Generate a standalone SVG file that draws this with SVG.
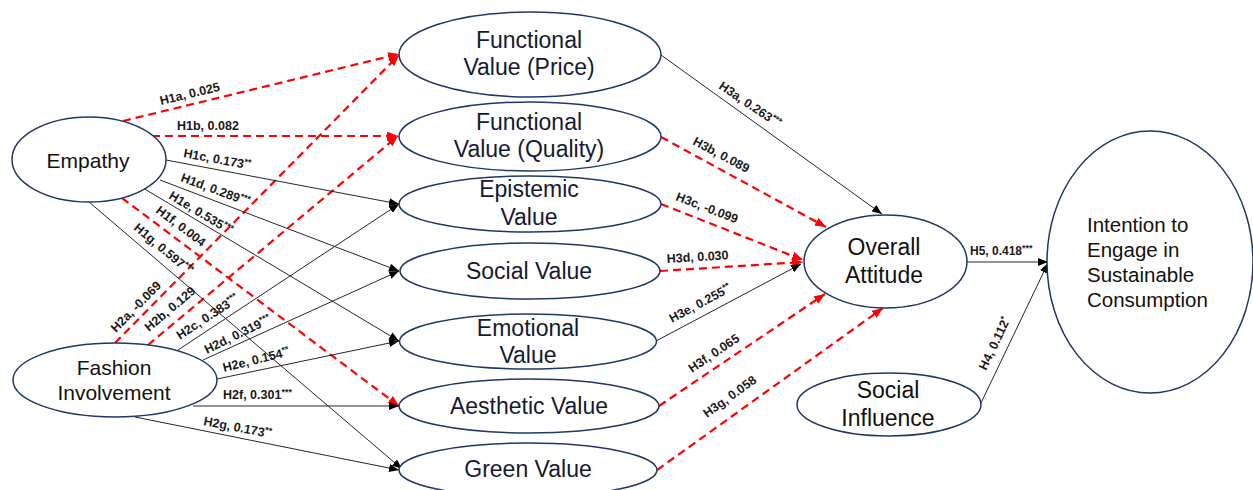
<svg xmlns="http://www.w3.org/2000/svg" width="1253" height="490" viewBox="0 0 1253 490">
  <defs>
    <style>
      .node ellipse { fill: #ffffff; stroke: #1f3864; stroke-width: 1.5; }
      .node text { font-family: "Liberation Sans", Arial, sans-serif; fill: #111111; text-anchor: middle; }
      .big text { font-size: 21px; }
      .mid text { font-size: 23px; fill: #141a33; }
      .ins { font-size: 23px; fill: #111111; }
      .sig line { stroke: #262626; stroke-width: 1; fill: none; marker-end: url(#arrK); }
      .ns line { stroke: #ff0000; stroke-width: 2.2; stroke-dasharray: 8 5; fill: none; marker-end: url(#arrR); }
      .lbl { font-family: "Liberation Sans", Arial, sans-serif; font-weight: bold; font-size: 12.5px; fill: #1a1a1a; }
      .sup { font-size: 9px; }
    </style>
    <marker id="arrK" viewBox="0 0 10 8" refX="10" refY="4" markerWidth="10" markerHeight="8" markerUnits="userSpaceOnUse" orient="auto">
      <path d="M0,0 L10,4 L0,8 z" fill="#000000"/>
    </marker>
    <marker id="arrR" viewBox="0 0 10 8" refX="10" refY="4" markerWidth="11" markerHeight="9" markerUnits="userSpaceOnUse" orient="auto">
      <path d="M0,0 L10,4 L0,8 z" fill="#ff0000"/>
    </marker>
  </defs>

  <rect width="1253" height="490" fill="#ffffff"/>

  <!-- paths between constructs -->
  <g id="connectors">
    <g class="ns">
      <line x1="123" y1="121" x2="399" y2="54"/>
      <line x1="152" y1="136" x2="398" y2="136"/>
      <line x1="122" y1="198" x2="399" y2="406"/>
      <line x1="115" y1="343" x2="399" y2="55"/>
      <line x1="148" y1="345" x2="398" y2="136"/>
      <line x1="661" y1="137" x2="826" y2="227"/>
      <line x1="661" y1="204" x2="803" y2="260"/>
      <line x1="660" y1="271" x2="803" y2="262"/>
      <line x1="659" y1="406" x2="825" y2="294"/>
      <line x1="657" y1="470" x2="883" y2="308"/>
    </g>
    <g class="sig">
      <line x1="166" y1="160" x2="399" y2="204"/>
      <line x1="160" y1="180" x2="399" y2="271"/>
      <line x1="143" y1="188" x2="399" y2="341"/>
      <line x1="89" y1="202" x2="402" y2="469"/>
      <line x1="178" y1="350" x2="399" y2="204"/>
      <line x1="203" y1="360" x2="399" y2="271"/>
      <line x1="217" y1="379" x2="399" y2="341"/>
      <line x1="193" y1="406" x2="399" y2="406"/>
      <line x1="135" y1="417" x2="399" y2="470"/>
      <line x1="661" y1="55" x2="882" y2="214"/>
      <line x1="656" y1="341" x2="801" y2="264"/>
      <line x1="967" y1="262" x2="1048" y2="262"/>
      <line x1="981" y1="403" x2="1048" y2="263"/>
    </g>

    <!-- path labels -->
    <text class="lbl" transform="translate(161,105) rotate(-13.6)">H1a, 0.025</text>
    <text class="lbl" transform="translate(177,130)">H1b, 0.082</text>
    <text class="lbl" transform="translate(183,157) rotate(10.7)">H1c, 0.173<tspan class="sup" dy="-4">**</tspan></text>
    <text class="lbl" transform="translate(180,181) rotate(20.3)">H1d, 0.289<tspan class="sup" dy="-4">***</tspan></text>
    <text class="lbl" transform="translate(168,198) rotate(31)">H1e, 0.535<tspan class="sup" dy="-4">***</tspan></text>
    <text class="lbl" transform="translate(155,212) rotate(37)">H1f, 0.004</text>
    <text class="lbl" transform="translate(133,229) rotate(40)">H1g, 0.597<tspan class="sup" dy="-4">***</tspan></text>

    <text class="lbl" transform="translate(116,333) rotate(-45.5)">H2a, -0.069</text>
    <text class="lbl" transform="translate(149,332) rotate(-40)">H2b, 0.129</text>
    <text class="lbl" transform="translate(180,340) rotate(-33.4)">H2c, 0.383<tspan class="sup" dy="-4">***</tspan></text>
    <text class="lbl" transform="translate(207,354) rotate(-26)">H2d, 0.319<tspan class="sup" dy="-4">***</tspan></text>
    <text class="lbl" transform="translate(224,372) rotate(-14)">H2e, 0.154<tspan class="sup" dy="-4">**</tspan></text>
    <text class="lbl" transform="translate(223,399)">H2f, 0.301<tspan class="sup" dy="-4">***</tspan></text>
    <text class="lbl" transform="translate(203,425) rotate(10.9)">H2g, 0.173<tspan class="sup" dy="-4">**</tspan></text>

    <text class="lbl" transform="translate(718,88) rotate(34)">H3a, 0.263<tspan class="sup" dy="-4">***</tspan></text>
    <text class="lbl" transform="translate(692,144) rotate(28)">H3b, 0.089</text>
    <text class="lbl" transform="translate(675,200) rotate(21)">H3c, -0.099</text>
    <text class="lbl" transform="translate(667,263) rotate(-3.6)">H3d, 0.030</text>
    <text class="lbl" transform="translate(672,323) rotate(-28)">H3e, 0.255<tspan class="sup" dy="-4">**</tspan></text>
    <text class="lbl" transform="translate(692,373) rotate(-34)">H3f, 0.065</text>
    <text class="lbl" transform="translate(707,418) rotate(-35.6)">H3g, 0.058</text>

    <text class="lbl" transform="translate(970,255)" style="font-size:12px">H5, 0.418<tspan class="sup" dy="-4">***</tspan></text>
    <text class="lbl" transform="translate(986,371) rotate(-64.4)">H4, 0.112<tspan class="sup" dy="-4">*</tspan></text>
  </g>

  <!-- antecedents -->
  <g id="empathy" class="node big">
    <ellipse cx="89" cy="159.5" rx="77" ry="42.5"/>
    <text x="88" y="168">Empathy</text>
  </g>
  <g id="fashion-involvement" class="node big">
    <ellipse cx="115" cy="380" rx="102" ry="37"/>
    <text x="114" y="375">Fashion</text>
    <text x="114" y="400">Involvement</text>
  </g>

  <!-- consumption values -->
  <g id="functional-price" class="node mid">
    <ellipse cx="530" cy="54.5" rx="131" ry="42.5"/>
    <text x="529" y="48">Functional</text>
    <text x="529" y="75">Value (Price)</text>
  </g>
  <g id="functional-quality" class="node mid">
    <ellipse cx="530" cy="136.5" rx="131" ry="34.5"/>
    <text x="529" y="130">Functional</text>
    <text x="529" y="157">Value (Quality)</text>
  </g>
  <g id="epistemic" class="node mid">
    <ellipse cx="530" cy="204" rx="131" ry="28"/>
    <text x="529" y="197">Epistemic</text>
    <text x="529" y="225">Value</text>
  </g>
  <g id="social-value" class="node mid">
    <ellipse cx="530" cy="271" rx="130" ry="28"/>
    <text x="529" y="279">Social Value</text>
  </g>
  <g id="emotional" class="node mid">
    <ellipse cx="528" cy="341.5" rx="128.5" ry="27.5"/>
    <text x="528" y="336">Emotional</text>
    <text x="528" y="363">Value</text>
  </g>
  <g id="aesthetic" class="node mid">
    <ellipse cx="529" cy="406" rx="130" ry="27"/>
    <text x="529" y="414">Aesthetic Value</text>
  </g>
  <g id="green" class="node mid">
    <ellipse cx="528" cy="470" rx="129" ry="27"/>
    <text x="528" y="477">Green Value</text>
  </g>

  <!-- outcomes -->
  <g id="overall-attitude" class="node">
    <ellipse cx="885.5" cy="261.5" rx="81.5" ry="46.5"/>
    <text class="ins" x="884" y="255">Overall</text>
    <text class="ins" x="884" y="283">Attitude</text>
  </g>
  <g id="social-influence" class="node">
    <ellipse cx="889" cy="404.5" rx="92" ry="31.5"/>
    <text class="ins" x="888" y="398">Social</text>
    <text class="ins" x="888" y="426">Influence</text>
  </g>
  <g id="intention" class="node">
    <ellipse cx="1150" cy="262" rx="103" ry="131"/>
    <text x="1087" y="232" style="text-anchor:start;font-size:20.5px">Intention to</text>
    <text x="1087" y="257" style="text-anchor:start;font-size:20.5px">Engage in</text>
    <text x="1087" y="282" style="text-anchor:start;font-size:20.5px">Sustainable</text>
    <text x="1087" y="307" style="text-anchor:start;font-size:20.5px">Consumption</text>
  </g>
</svg>
